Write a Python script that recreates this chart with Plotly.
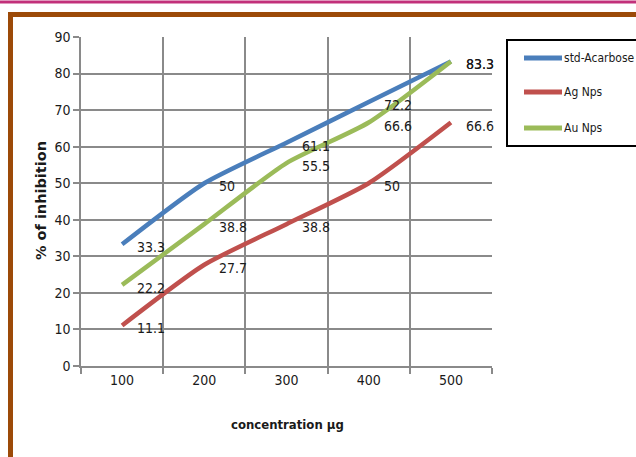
import plotly.graph_objects as go

# Inhibition (%) versus concentration
concentration = ["100", "200", "300", "400", "500"]
std_acarbose = [33.3, 50, 61.1, 72.2, 83.3]
ag_nps = [11.1, 27.7, 38.8, 50, 66.6]
au_nps = [22.2, 38.8, 55.5, 66.6, 83.3]

series = [
    ("std-Acarbose", std_acarbose, "#4A7EBB"),
    ("Ag Nps", ag_nps, "#C0504D"),
    ("Au Nps", au_nps, "#9BBB59"),
]

NARROW = "DejaVu Sans Condensed, Liberation Sans Narrow, Arial Narrow, sans-serif"
W, H = 636, 457
L, R, T, B = 81, 144, 37, 91
PW, PH = W - L - R, H - T - B


def px(x):
    return (x - L) / PW


def py(y):
    return (H - B - y) / PH


fig = go.Figure()
for name, vals, col in series:
    fig.add_trace(go.Scatter(
        x=concentration, y=vals, name=name, mode="lines",
        line=dict(color=col, width=4.5, shape="spline", smoothing=0.6),
        showlegend=False, hoverinfo="skip",
    ))

annotations = []
for name, vals, col in series:
    for i, v in enumerate(vals):
        annotations.append(dict(
            x=i, y=v, xref="x", yref="y", text=f"{v:g}", showarrow=False,
            xanchor="left", yanchor="middle", xshift=13, yshift=-3,
            font=dict(family=NARROW, size=14, color="#1a1a1a"),
        ))

# axis titles
annotations.append(dict(
    x=px(287), y=py(424), xref="paper", yref="paper", text="<b>concentration µg</b>",
    showarrow=False, xanchor="center", yanchor="middle",
    font=dict(family=NARROW, size=13, color="#1a1a1a"),
))
annotations.append(dict(
    x=px(41), y=py(201), xref="paper", yref="paper", text="<b>% of inhibition</b>",
    showarrow=False, xanchor="center", yanchor="middle", textangle=-90,
    font=dict(family="DejaVu Sans, sans-serif", size=14.5, color="#1a1a1a"),
))

shapes = []
# page frame: magenta rule on top, brown border
shapes.append(dict(type="line", xref="paper", yref="paper",
                   x0=px(0), x1=px(W), y0=py(2), y1=py(2),
                   line=dict(color="#C2307A", width=3)))
shapes.append(dict(type="rect", xref="paper", yref="paper",
                   x0=px(10.5), x1=px(W + 20), y0=py(14.5), y1=py(H + 20),
                   line=dict(color="#9C4A08", width=5)))

# legend box with swatches
shapes.append(dict(type="rect", xref="paper", yref="paper",
                   x0=px(507), x1=px(W + 10), y0=py(40), y1=py(146),
                   line=dict(color="#000000", width=2), fillcolor="white"))
legend_y = [58, 92, 128]
for (name, vals, col), ly in zip(series, legend_y):
    shapes.append(dict(type="line", xref="paper", yref="paper",
                       x0=px(524), x1=px(562), y0=py(ly), y1=py(ly),
                       line=dict(color=col, width=5)))
    annotations.append(dict(
        x=px(562), y=py(ly), xref="paper", yref="paper", text=name,
        showarrow=False, xanchor="left", yanchor="middle",
        font=dict(family=NARROW, size=12, color="#1a1a1a"),
    ))

grid = "#8A8A8A"
fig.update_layout(
    width=W, height=H,
    margin=dict(l=L, r=R, t=T, b=B),
    paper_bgcolor="white", plot_bgcolor="white",
    showlegend=False,
    annotations=annotations, shapes=shapes,
    font=dict(family=NARROW, size=14, color="#1a1a1a"),
    xaxis=dict(
        type="category", range=[-0.5, 4.5], tickson="boundaries",
        showgrid=True, gridcolor=grid, gridwidth=1.5,
        showline=True, linecolor=grid, linewidth=1.5,
        ticks="outside", ticklen=6, tickcolor=grid, tickwidth=1.5,
        tickfont=dict(family=NARROW, size=14, color="#1a1a1a"),
        fixedrange=True,
    ),
    yaxis=dict(
        range=[0, 90], dtick=10, tick0=0,
        showgrid=True, gridcolor=grid, gridwidth=1.5,
        showline=True, linecolor=grid, linewidth=1.5,
        ticks="outside", ticklen=6, tickcolor=grid, tickwidth=1.5,
        tickfont=dict(family=NARROW, size=14, color="#1a1a1a"),
        zeroline=False, fixedrange=True,
    ),
)

fig.write_html("out.html")
